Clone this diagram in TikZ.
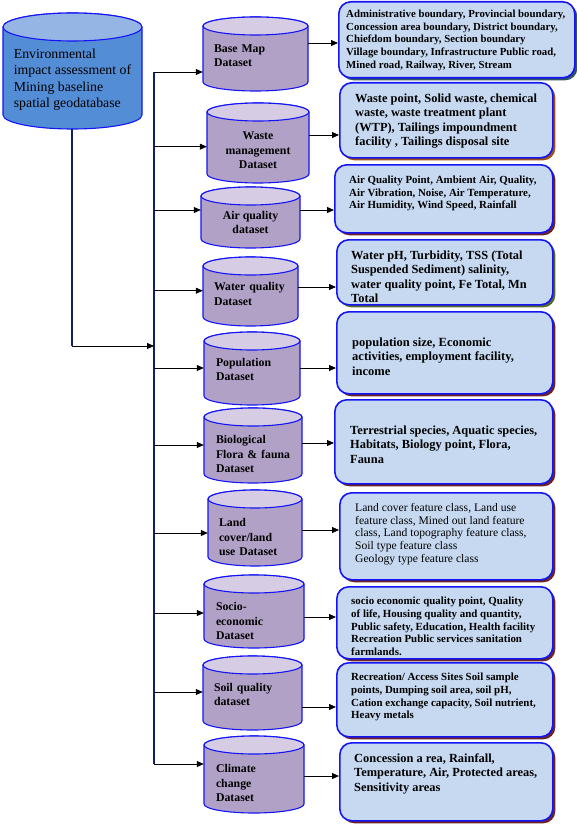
\documentclass[tikz,border=0pt]{standalone}
\usepackage{fontspec}
\setmainfont{Liberation Serif}
\usetikzlibrary{shadows,arrows.meta}
\definecolor{cylbody}{RGB}{178,161,199}
\definecolor{cyltop}{RGB}{214,205,228}
\definecolor{mainbody}{RGB}{83,141,213}
\definecolor{maintop}{RGB}{149,182,228}
\definecolor{boxfill}{RGB}{198,217,241}
\definecolor{edgeblue}{RGB}{20,20,245}
\definecolor{trunkblue}{RGB}{16,32,96}
\definecolor{shteal}{RGB}{45,85,100}
\definecolor{shbrown}{RGB}{160,80,20}
\definecolor{shred}{RGB}{110,35,35}
\definecolor{sholive}{RGB}{85,105,40}
\begin{document}
\begin{tikzpicture}[x=1pt,y=-1pt,>={Triangle[length=7pt,width=6pt]},
	dbbody/.style={draw=edgeblue,line width=1.1pt,fill=cylbody},
	dbend/.style={draw=edgeblue,line width=1.1pt,fill=cyltop},
	dbtext/.style={inner sep=0pt,align=left,font=\fontsize{11.8}{14.5}\selectfont\bfseries},
	attr/.style={draw=edgeblue,line width=1.6pt,fill=boxfill,rounded corners=12pt,anchor=north west,inner sep=0pt,drop shadow={shadow xshift=2.5pt,shadow yshift=-2.5pt,fill=#1,opacity=1}},
	attrtext/.style={anchor=north west,inner sep=0pt,align=left,font=\bfseries},
	feed/.style={->,line width=0.8pt}]
	\useasboundingbox (0,0) rectangle (576,824);
	% main geodatabase
	\filldraw[dbbody,fill=mainbody] (3,27) -- (3,115) arc[start angle=180,end angle=0,x radius=69.5,y radius=14] -- (142,27) arc[start angle=0,end angle=-180,x radius=69.5,y radius=14] -- cycle;
	\filldraw[dbend,fill=maintop] (72.5,27) ellipse[x radius=69.5,y radius=14];
	\node[dbtext,minimum width=139pt,font=\fontsize{13.8}{16.5}\selectfont] (geo) at (72.5,79.5) {Environmental\\impact assessment of\\Mining baseline\\spatial geodatabase};
	% dataset cylinders
	\filldraw[dbbody] (203,26) -- (203,82) arc[start angle=180,end angle=0,x radius=52.5,y radius=9] -- (308,26) arc[start angle=0,end angle=-180,x radius=52.5,y radius=9] -- cycle;
	\filldraw[dbend] (255.5,26) ellipse[x radius=52.5,y radius=9];
	\filldraw[dbbody] (207,112) -- (207,174) arc[start angle=180,end angle=0,x radius=51,y radius=9] -- (309,112) arc[start angle=0,end angle=-180,x radius=51,y radius=9] -- cycle;
	\filldraw[dbend] (258,112) ellipse[x radius=51,y radius=9];
	\filldraw[dbbody] (201,196) -- (201,239) arc[start angle=180,end angle=0,x radius=49.5,y radius=9] -- (300,196) arc[start angle=0,end angle=-180,x radius=49.5,y radius=9] -- cycle;
	\filldraw[dbend] (250.5,196) ellipse[x radius=49.5,y radius=9];
	\filldraw[dbbody] (203,266) -- (203,317) arc[start angle=180,end angle=0,x radius=47.5,y radius=9] -- (298,266) arc[start angle=0,end angle=-180,x radius=47.5,y radius=9] -- cycle;
	\filldraw[dbend] (250.5,266) ellipse[x radius=47.5,y radius=9];
	\filldraw[dbbody] (204,341) -- (204,396) arc[start angle=180,end angle=0,x radius=48,y radius=9] -- (300,341) arc[start angle=0,end angle=-180,x radius=48,y radius=9] -- cycle;
	\filldraw[dbend] (252,341) ellipse[x radius=48,y radius=9];
	\filldraw[dbbody] (204,417) -- (204,474) arc[start angle=180,end angle=0,x radius=49,y radius=9] -- (302,417) arc[start angle=0,end angle=-180,x radius=49,y radius=9] -- cycle;
	\filldraw[dbend] (253,417) ellipse[x radius=49,y radius=9];
	\filldraw[dbbody] (208,499) -- (208,557) arc[start angle=180,end angle=0,x radius=47,y radius=9] -- (302,499) arc[start angle=0,end angle=-180,x radius=47,y radius=9] -- cycle;
	\filldraw[dbend] (255,499) ellipse[x radius=47,y radius=9];
	\filldraw[dbbody] (204,584) -- (204,639) arc[start angle=180,end angle=0,x radius=50,y radius=9] -- (304,584) arc[start angle=0,end angle=-180,x radius=50,y radius=9] -- cycle;
	\filldraw[dbend] (254,584) ellipse[x radius=50,y radius=9];
	\filldraw[dbbody] (203,665) -- (203,721) arc[start angle=180,end angle=0,x radius=49.5,y radius=9] -- (302,665) arc[start angle=0,end angle=-180,x radius=49.5,y radius=9] -- cycle;
	\filldraw[dbend] (252.5,665) ellipse[x radius=49.5,y radius=9];
	\filldraw[dbbody] (204,745) -- (204,804) arc[start angle=180,end angle=0,x radius=50,y radius=9] -- (304,745) arc[start angle=0,end angle=-180,x radius=50,y radius=9] -- cycle;
	\filldraw[dbend] (254,745) ellipse[x radius=50,y radius=9];
	% dataset names
	\node[dbtext,minimum width=105pt,text width=83pt] (base) at (255.5,55.5) {Base~Map\\Dataset};
	\node[dbtext,minimum width=102pt,align=center] (waste) at (258,150.5) {Waste\\management\\Dataset};
	\node[dbtext,minimum width=99pt,align=center] (air) at (250.5,222.5) {Air~quality\\dataset};
	\node[dbtext,minimum width=95pt,text width=73pt] (water) at (250.5,294) {Water~quality\\Dataset};
	\node[dbtext,minimum width=96pt,text width=72pt] (pop) at (252,369.5) {Population\\Dataset};
	\node[dbtext,minimum width=98pt,text width=74pt] (bio) at (253,454) {Biological\\Flora~\&~fauna\\Dataset};
	\node[dbtext,minimum width=94pt,text width=72pt] (land) at (255,537) {Land\\cover/land\\use~Dataset};
	\node[dbtext,minimum width=100pt,text width=76pt] (socio) at (254,621) {Socio-\\economic\\Dataset};
	\node[dbtext,minimum width=99pt,text width=77pt] (soil) at (252.5,694.5) {Soil~quality\\dataset};
	\node[dbtext,minimum width=100pt,text width=76pt] (clim) at (254,783) {Climate\\change\\Dataset};
	% attribute boxes
	\node[attr=shteal,minimum width=236pt,minimum height=76pt] (b1) at (338,1) {};
	\node[attr=shbrown,minimum width=213pt,minimum height=75pt] (b2) at (339,82) {};
	\node[attr=shred,minimum width=218pt,minimum height=68pt] (b3) at (334,164) {};
	\node[attr=sholive,minimum width=216pt,minimum height=65pt] (b4) at (336,239) {};
	\node[attr=shred,minimum width=216pt,minimum height=82pt] (b5) at (336,311) {};
	\node[attr=shred,minimum width=218pt,minimum height=84pt] (b6) at (334,399) {};
	\node[attr=shred,minimum width=213pt,minimum height=87pt] (b7) at (339,492) {};
	\node[attr=shred,minimum width=216pt,minimum height=72pt] (b8) at (336,586) {};
	\node[attr=shred,minimum width=216pt,minimum height=74pt] (b9) at (336,662) {};
	\node[attr=shred,minimum width=213pt,minimum height=78pt] (b10) at (339,742) {};
	\node[attrtext,font=\fontsize{10.8}{12.6}\selectfont\bfseries] (t1) at (346,10) {Administrative boundary, Provincial boundary,\\Concession area boundary, District boundary,\\Chiefdom boundary, Section boundary\\Village boundary, Infrastructure Public road,\\Mined road, Railway, River, Stream};
	\node[attrtext,font=\fontsize{12.4}{14.5}\selectfont\bfseries] (t2) at (355,93.5) {Waste point, Solid waste, chemical\\waste, waste treatment plant\\(WTP), Tailings impoundment\\facility , Tailings disposal site};
	\node[attrtext,font=\fontsize{10.9}{12.5}\selectfont\bfseries] (t3) at (349,176) {Air Quality Point, Ambient Air, Quality,\\Air Vibration, Noise, Air Temperature,\\Air Humidity, Wind Speed, Rainfall};
	\node[attrtext,font=\fontsize{12.4}{14.5}\selectfont\bfseries] (t4) at (351,250.5) {Water pH, Turbidity, TSS (Total\\Suspended Sediment) salinity,\\water quality point, Fe Total, Mn\\Total};
	\node[attrtext,font=\fontsize{12.5}{14.5}\selectfont\bfseries] (t5) at (352,337.5) {population size, Economic\\activities, employment facility,\\income};
	\node[attrtext,font=\fontsize{12.4}{14.5}\selectfont\bfseries] (t6) at (350,425.5) {Terrestrial species, Aquatic species,\\Habitats, Biology point, Flora,\\Fauna};
	\node[attrtext,font=\fontsize{11.6}{12.7}\selectfont] (t7) at (355,503) {Land cover feature class, Land use\\feature class, Mined out land feature\\class, Land topography feature class,\\Soil type feature class\\Geology type feature class};
	\node[attrtext,font=\fontsize{10.9}{12.7}\selectfont\bfseries] (t8) at (351,597) {socio economic quality point, Quality\\of life, Housing quality and quantity,\\Public safety, Education, Health facility\\Recreation Public services sanitation\\farmlands.};
	\node[attrtext,font=\fontsize{10.9}{12.7}\selectfont\bfseries] (t9) at (351,673) {Recreation/ Access Sites Soil sample\\points, Dumping soil area, soil pH,\\Cation exchange capacity, Soil nutrient,\\Heavy metals};
	\node[attrtext,font=\fontsize{12.4}{14.5}\selectfont\bfseries] (t10) at (354,753.5) {Concession a rea, Rainfall,\\Temperature, Air, Protected areas,\\Sensitivity areas};
	% trunk
	\coordinate (ttop) at (154,72);
	\coordinate (tbot) at (154,764);
	\coordinate (geofoot) at (72,129);
	\coordinate (bend) at (72,346);
	\draw[trunkblue,line width=2.2pt] (ttop) -- (tbot);
	\draw[trunkblue,line width=2pt] (geofoot) -- (bend);
	\draw[feed] (bend) -- (bend -| ttop);
	% branches
	\draw[feed] (ttop) -- (ttop -| base.west);
	\draw[feed] (154,146.7) -- (waste.west |- 0,146.7);
	\draw[feed] (154,210) -- (air.west |- 0,210);
	\draw[feed] (154,290.7) -- (water.west |- 0,290.7);
	\draw[feed] (154,368) -- (pop.west |- 0,368);
	\draw[feed] (154,445) -- (bio.west |- 0,445);
	\draw[feed] (154,533) -- (land.west |- 0,533);
	\draw[feed] (154,613) -- (socio.west |- 0,613);
	\draw[feed] (154,692) -- (soil.west |- 0,692);
	\draw[feed] (tbot) -- (tbot -| clim.west);
	% to attribute boxes
	\draw[feed] (base.east |- 0,43) -- (b1.west |- 0,43);
	\draw[feed] (waste.east |- 0,135) -- (b2.west |- 0,135);
	\draw[feed] (air.east |- 0,210) -- (b3.west |- 0,210);
	\draw[feed] (water.east |- 0,287) -- (b4.west |- 0,287);
	\draw[feed] (pop.east |- 0,368) -- (b5.west |- 0,368);
	\draw[feed] (bio.east |- 0,443) -- (b6.west |- 0,443);
	\draw[feed] (land.east |- 0,530) -- (b7.west |- 0,530);
	\draw[feed] (socio.east |- 0,617) -- (b8.west |- 0,617);
	\draw[feed] (soil.east |- 0,707) -- (b9.west |- 0,707);
	\draw[feed] (clim.east |- 0,776) -- (b10.west |- 0,776);
\end{tikzpicture}
\end{document}
